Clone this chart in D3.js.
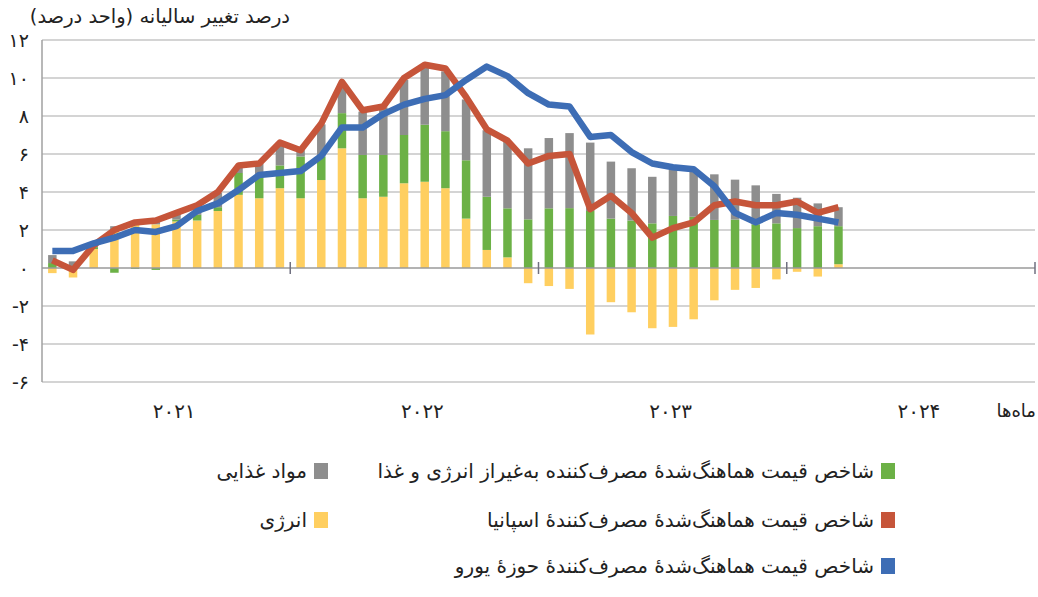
<!DOCTYPE html>
<html>
<head>
<meta charset="utf-8">
<script src="https://cdn.jsdelivr.net/npm/d3@7"></script>
<style>
  html, body { margin: 0; padding: 0; background: #fff; }
  svg { display: block; font-family: "DejaVu Sans", sans-serif; }
</style>
</head>
<body>
<svg id="chart" width="1038" height="597"></svg>
<script>
// ---- data ----
const years = [2021, 2022, 2023, 2024];
const yearLabels = ["۲۰۲۱", "۲۰۲۲", "۲۰۲۳", "۲۰۲۴"];
const yTicks = [-6, -4, -2, 0, 2, 4, 6, 8, 10, 12];
const yTickLabels = ["-۶", "-۴", "-۲", "۰", "۲", "۴", "۶", "۸", "۱۰", "۱۲"];

// contributions (percentage points), Jan 2021 - Mar 2024
const energy = [-0.27, -0.5, 1.0, 1.9, 2.3, 2.3, 2.45, 2.5, 3.0, 3.85, 3.67, 4.2,
  3.67, 4.63, 6.3, 3.67, 3.75, 4.46, 4.54, 4.2, 2.6, 0.95, 0.56, -0.8,
  -0.95, -1.1, -3.5, -1.8, -2.33, -3.17, -3.1, -2.7, -1.7, -1.15, -1.05, -0.6,
  -0.2, -0.45, 0.2];
const core = [0.26, 0.05, 0.1, -0.25, -0.05, -0.1, 0.1, 0.3, 0.2, 1.15, 1.13, 1.2,
  2.2, 1.23, 1.85, 2.28, 2.2, 2.54, 3.0, 3.0, 3.07, 2.8, 2.58, 2.56,
  3.14, 3.15, 3.0, 2.6, 2.5, 2.35, 2.74, 2.7, 2.53, 2.55, 2.3, 2.35,
  2.1, 2.2, 2.0];
const food = [0.42, 0.3, 0.1, 0.3, 0.15, 0.25, 0.3, 0.4, 0.75, 0.35, 0.7, 1.2,
  0.33, 1.7, 1.55, 2.28, 2.5, 2.9, 3.0, 3.15, 3.2, 3.5, 3.5, 3.74,
  3.7, 3.95, 3.6, 3.0, 2.75, 2.45, 2.42, 2.37, 2.4, 2.1, 2.05, 1.55,
  1.6, 1.2, 1.0];
const spain = [0.4, -0.1, 1.2, 2.0, 2.4, 2.5, 2.9, 3.3, 4.0, 5.4, 5.5, 6.6,
  6.2, 7.6, 9.8, 8.3, 8.5, 10.0, 10.7, 10.5, 9.0, 7.3, 6.7, 5.5,
  5.9, 6.0, 3.1, 3.8, 2.9, 1.6, 2.1, 2.4, 3.3, 3.5, 3.3, 3.3,
  3.5, 2.9, 3.2];
const euro = [0.9, 0.9, 1.3, 1.6, 2.0, 1.9, 2.2, 3.0, 3.4, 4.1, 4.9, 5.0,
  5.1, 5.9, 7.4, 7.4, 8.1, 8.6, 8.9, 9.1, 9.9, 10.6, 10.1, 9.2,
  8.6, 8.5, 6.9, 7.0, 6.1, 5.5, 5.3, 5.2, 4.3, 2.9, 2.4, 2.9,
  2.8, 2.6, 2.4];

const title = "درصد تغییر سالیانه (واحد درصد)";
const xAxisTitle = "ماه‌ها";
const legendLabels = {
  core: "شاخص قیمت هماهنگ‌شدۀ مصرف‌کننده به‌غیراز انرژی و غذا",
  food: "مواد غذایی",
  spain: "شاخص قیمت هماهنگ‌شدۀ مصرف‌کنندۀ اسپانیا",
  energy: "انرژی",
  euro: "شاخص قیمت هماهنگ‌شدۀ مصرف‌کنندۀ حوزۀ یورو"
};
const colors = {
  energy: "#FFCF60",
  core: "#6CB146",
  food: "#8E8E8E",
  spain: "#C6553A",
  euro: "#3D6DB5"
};

// ---- build ----
const months = [];
years.forEach(yr => d3.range(1, 13).forEach(m => months.push(yr + "-" + m)));
const rows = energy.map((e, i) => ({ month: months[i], energy: e, core: core[i], food: food[i] }));

const svg = d3.select("#chart");
const mLeft = 42, mRight = 1035, mTop = 40, mBottom = 382;

const x = d3.scaleBand().domain(months).range([mLeft, mRight]).paddingInner(0.59).paddingOuter(0.295);
const xs = d3.scaleBand().domain(months).range([mLeft, mRight]);
const y = d3.scaleLinear().domain([-6, 12]).range([mBottom, mTop]);

// gridlines
svg.append("g").selectAll("line").data(yTicks.filter(d => d !== 0)).join("line")
  .attr("x1", mLeft).attr("x2", mRight)
  .attr("y1", d => y(d)).attr("y2", d => y(d))
  .attr("stroke", "#C6C6C6").attr("stroke-width", 1.5);

// left axis line
svg.append("line").attr("x1", mLeft).attr("x2", mLeft).attr("y1", mTop).attr("y2", mBottom)
  .attr("stroke", "#A0A0A0").attr("stroke-width", 1.5);

// y tick labels
svg.append("g").selectAll("text").data(yTicks).join("text")
  .attr("x", 29).attr("y", d => y(d))
  .attr("dy", "0.36em")
  .attr("text-anchor", "end")
  .attr("font-size", 19)
  .attr("fill", "#222")
  .text((d, i) => yTickLabels[i]);

// stacked bars
const stack = d3.stack().keys(["energy", "core", "food"]).offset(d3.stackOffsetDiverging);
const series = stack(rows);
svg.append("g").selectAll("g").data(series).join("g")
  .attr("fill", d => colors[d.key])
  .selectAll("rect").data(d => d).join("rect")
  .attr("x", d => x(d.data.month))
  .attr("width", x.bandwidth())
  .attr("y", d => y(Math.max(d[0], d[1])))
  .attr("height", d => Math.abs(y(d[0]) - y(d[1])));

// zero axis
svg.append("line").attr("x1", mLeft).attr("x2", mRight).attr("y1", y(0)).attr("y2", y(0))
  .attr("stroke", "#9A9A9A").attr("stroke-width", 1.5);
// year boundary ticks
const boundaries = years.map((yr, i) => months[(i + 1) * 12 - 1]);
svg.append("g").selectAll("line").data(boundaries).join("line")
  .attr("x1", d => xs(d) + xs.bandwidth()).attr("x2", d => xs(d) + xs.bandwidth())
  .attr("y1", y(0) - 6).attr("y2", y(0) + 6)
  .attr("stroke", "#707080").attr("stroke-width", 1.5);

// lines
const line = d3.line()
  .x((d, i) => xs(months[i]) + xs.bandwidth() / 2)
  .y(d => y(d));
svg.append("path").datum(spain).attr("d", line)
  .attr("fill", "none").attr("stroke", colors.spain).attr("stroke-width", 6.5)
  .attr("stroke-linejoin", "round");
svg.append("path").datum(euro).attr("d", line)
  .attr("fill", "none").attr("stroke", colors.euro).attr("stroke-width", 6.5)
  .attr("stroke-linejoin", "round");

// year labels
svg.append("g").selectAll("text").data(years).join("text")
  .attr("x", (d, i) => xs(months[i * 12]) + xs.bandwidth() * 6 + 8)
  .attr("y", 418)
  .attr("text-anchor", "middle")
  .attr("font-size", 20)
  .attr("fill", "#222")
  .text((d, i) => yearLabels[i]);

svg.append("text").attr("x", 1036).attr("y", 417)
  .attr("direction", "rtl").attr("text-anchor", "start")
  .attr("font-size", 18).attr("fill", "#222").text(xAxisTitle);

// title
svg.append("text").attr("x", 290).attr("y", 23)
  .attr("direction", "rtl").attr("text-anchor", "start")
  .attr("font-size", 19.5).attr("fill", "#222").text(title);

// legend
const legendItems = [
  { key: "core", sx: 881, cy: 471 },
  { key: "food", sx: 314, cy: 471 },
  { key: "spain", sx: 881, cy: 520 },
  { key: "energy", sx: 314, cy: 520 },
  { key: "euro", sx: 881, cy: 566 }
];
const lg = svg.append("g").selectAll("g").data(legendItems).join("g");
lg.append("rect")
  .attr("x", d => d.sx).attr("y", d => d.cy - 8)
  .attr("width", 14).attr("height", 16)
  .attr("fill", d => colors[d.key]);
lg.append("text")
  .attr("x", d => d.sx - 7).attr("y", d => d.cy)
  .attr("dy", "0.35em")
  .attr("direction", "rtl").attr("text-anchor", "start")
  .attr("font-size", 20).attr("fill", "#222")
  .text(d => legendLabels[d.key]);
</script>
</body>
</html>
